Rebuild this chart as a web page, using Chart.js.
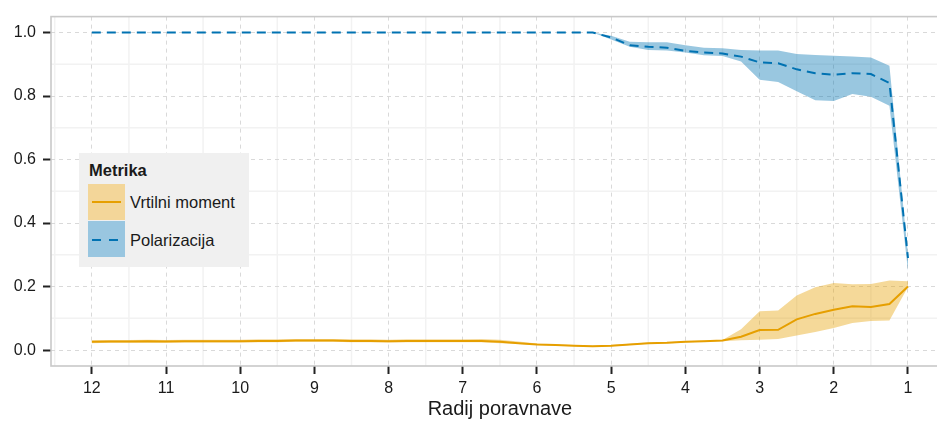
<!DOCTYPE html>
<html>
<head>
<meta charset="utf-8">
<script src="https://cdn.jsdelivr.net/npm/chart.js@4/dist/chart.umd.min.js"></script>
<style>
  html, body { margin: 0; padding: 0; background: #fff; overflow: hidden; }
  #wrap { position: relative; width: 952px; height: 421px; }
  #legend {
    position: absolute; left: 79px; top: 153px; width: 170px; height: 114px;
    background: #f0f0f0; font-family: "Liberation Sans", Arial, sans-serif; color: #1a1a1a;
  }
  #legend .ttl { position: absolute; left: 10px; top: 8px; font-weight: bold; font-size: 16.5px; }
  #legend .key { position: absolute; left: 9px; width: 37px; height: 36px; }
  #legend .lbl { position: absolute; left: 51px; font-size: 16.5px; line-height: 20px; }
</style>
</head>
<body>
<div id="wrap">
  <canvas id="myChart"></canvas>
  <div id="legend">
    <div class="ttl">Metrika</div>
    <div class="key" style="top:31px;background:#f3d699;">
      <svg width="37" height="36"><line x1="4" y1="18" x2="33" y2="18" stroke="#E69F00" stroke-width="2"/></svg>
    </div>
    <div class="lbl" style="top:39px;">Vrtilni moment</div>
    <div class="key" style="top:68px;background:#99c6e0;">
      <svg width="37" height="36"><line x1="4" y1="19" x2="33" y2="19" stroke="#0072B2" stroke-width="2" stroke-dasharray="9,8"/></svg>
    </div>
    <div class="lbl" style="top:77px;">Polarizacija</div>
  </div>
</div>
<script>
"use strict";

// categories (radius) -----------
const radius = [12, 11.75, 11.5, 11.25, 11, 10.75, 10.5, 10.25, 10, 9.75, 9.5, 9.25, 9,
  8.75, 8.5, 8.25, 8, 7.75, 7.5, 7.25, 7, 6.75, 6.5, 6.25, 6, 5.75, 5.5, 5.25, 5,
  4.75, 4.5, 4.25, 4, 3.75, 3.5, 3.25, 3, 2.75, 2.5, 2.25, 2, 1.75, 1.5, 1.25, 1];

// torque (Vrtilni moment) ----------
const torqueMean = [0.026, 0.027, 0.027, 0.028, 0.027, 0.028, 0.028, 0.028, 0.028, 0.029, 0.029, 0.030, 0.030,
  0.030, 0.029, 0.029, 0.028, 0.029, 0.029, 0.029, 0.029, 0.029, 0.026, 0.022, 0.018, 0.016, 0.014, 0.012, 0.014,
  0.018, 0.022, 0.023, 0.026, 0.028, 0.030, 0.042, 0.063, 0.064, 0.097, 0.114, 0.127, 0.138, 0.136, 0.145, 0.200];
const torqueHigh = [0.031, 0.032, 0.032, 0.033, 0.032, 0.033, 0.033, 0.033, 0.033, 0.034, 0.034, 0.035, 0.035,
  0.035, 0.034, 0.034, 0.033, 0.034, 0.034, 0.034, 0.034, 0.035, 0.033, 0.027, 0.021, 0.018, 0.016, 0.014, 0.016,
  0.020, 0.024, 0.025, 0.028, 0.030, 0.032, 0.066, 0.122, 0.125, 0.172, 0.198, 0.211, 0.207, 0.208, 0.219, 0.217];
const torqueLow = [0.022, 0.023, 0.023, 0.024, 0.023, 0.024, 0.024, 0.024, 0.024, 0.025, 0.025, 0.026, 0.026,
  0.026, 0.025, 0.025, 0.024, 0.025, 0.025, 0.025, 0.025, 0.025, 0.022, 0.019, 0.016, 0.014, 0.012, 0.010, 0.012,
  0.016, 0.020, 0.021, 0.024, 0.026, 0.028, 0.031, 0.033, 0.035, 0.046, 0.057, 0.070, 0.085, 0.092, 0.093, 0.199];

// polarization (Polarizacija) ----------
const polarMean = [1, 1, 1, 1, 1, 1, 1, 1, 1, 1, 1, 1, 1,
  1, 1, 1, 1, 1, 1, 1, 1, 1, 1, 1, 1, 1, 1, 1, 0.984,
  0.960, 0.955, 0.952, 0.942, 0.937, 0.934, 0.924, 0.906, 0.903, 0.884, 0.872, 0.867, 0.872, 0.869, 0.841, 0.290];
const polarHigh = [1, 1, 1, 1, 1, 1, 1, 1, 1, 1, 1, 1, 1,
  1, 1, 1, 1, 1, 1, 1, 1, 1, 1, 1, 1, 1, 1, 1, 0.990,
  0.971, 0.969, 0.969, 0.960, 0.952, 0.950, 0.945, 0.943, 0.943, 0.932, 0.929, 0.927, 0.924, 0.921, 0.895, 0.300];
const polarLow = [1, 1, 1, 1, 1, 1, 1, 1, 1, 1, 1, 1, 1,
  1, 1, 1, 1, 1, 1, 1, 1, 1, 1, 1, 1, 1, 1, 1, 0.978,
  0.955, 0.945, 0.943, 0.937, 0.928, 0.926, 0.909, 0.851, 0.844, 0.815, 0.787, 0.784, 0.806, 0.798, 0.769, 0.250];

// axes ticks ----------
const xTicks = [12, 11, 10, 9, 8, 7, 6, 5, 4, 3, 2, 1];
const xMinor = [12.5, 11.5, 10.5, 9.5, 8.5, 7.5, 6.5, 5.5, 4.5, 3.5, 2.5, 1.5, 0.5];
const yTicks = [0, 0.2, 0.4, 0.6, 0.8, 1.0];
const yMinor = [0.1, 0.3, 0.5, 0.7, 0.9];

const pts = (arr) => radius.map((r, i) => ({ x: r, y: arr[i] }));

const FONT = "'Liberation Sans', Arial, sans-serif";

// minor grid + panel border
const panelPlugin = {
  id: "panel",
  beforeDraw(chart) {
    const { ctx, chartArea: a, scales } = chart;
    ctx.save();
    ctx.strokeStyle = "#f2f2f2";
    ctx.lineWidth = 1.5;
    xMinor.forEach((v) => {
      const px = scales.x.getPixelForValue(v);
      if (px < a.left || px > a.right) return;
      ctx.beginPath(); ctx.moveTo(px, a.top); ctx.lineTo(px, a.bottom); ctx.stroke();
    });
    yMinor.forEach((v) => {
      const py = scales.y.getPixelForValue(v);
      ctx.beginPath(); ctx.moveTo(a.left, py); ctx.lineTo(a.right, py); ctx.stroke();
    });
    ctx.restore();
  },
  afterDraw(chart) {
    const { ctx, chartArea: a } = chart;
    ctx.save();
    ctx.strokeStyle = "#c9c9c9";
    ctx.lineWidth = 1.6;
    ctx.strokeRect(a.left, a.top, a.right - a.left, a.bottom - a.top);
    ctx.restore();
  },
};

const ctx = document.getElementById("myChart").getContext("2d");
const myChart = new Chart(ctx, {
  type: "line",
  data: {
    datasets: [
      { label: "torqueHigh", data: pts(torqueHigh), fill: "+1", backgroundColor: "rgba(230,159,0,0.4)", borderWidth: 0, pointRadius: 0, order: 3 },
      { label: "torqueLow", data: pts(torqueLow), fill: false, borderWidth: 0, pointRadius: 0, order: 3 },
      { label: "polarHigh", data: pts(polarHigh), fill: "+1", backgroundColor: "rgba(0,114,178,0.4)", borderWidth: 0, pointRadius: 0, order: 3 },
      { label: "polarLow", data: pts(polarLow), fill: false, borderWidth: 0, pointRadius: 0, order: 3 },
      { label: "Vrtilni moment", data: pts(torqueMean), borderColor: "#E69F00", borderWidth: 2, pointRadius: 0, fill: false, order: 1 },
      { label: "Polarizacija", data: pts(polarMean), borderColor: "#0072B2", borderWidth: 2, borderDash: [9, 6], pointRadius: 0, fill: false, order: 1 },
    ],
  },
  options: {
    responsive: true,
    maintainAspectRatio: false,
    animation: false,
    layout: { padding: { left: 0, right: 3.2, top: 12.7, bottom: 0 } },
    plugins: { legend: { display: false }, tooltip: { enabled: false } },
    elements: { line: { tension: 0 } },
    scales: {
      x: {
        type: "linear",
        reverse: true,
        min: 0.45,
        max: 12.55,
        afterBuildTicks: (s) => { s.ticks = xTicks.map((v) => ({ value: v })); },
        afterFit: (s) => { s.height = 55; },
        ticks: { autoSkip: false, maxRotation: 0, padding: 5, color: "#1a1a1a", font: { family: FONT, size: 16 }, callback: (v) => String(v) },
        grid: { color: "#d9d9d9", lineWidth: 1, tickColor: "#222", tickWidth: 2, tickLength: 8 },
        border: { display: false, dash: [4, 4] },
        title: { display: true, text: "Radij poravnave", color: "#1a1a1a", font: { family: FONT, size: 20 }, padding: { top: 0, bottom: 0 } },
      },
      y: {
        min: -0.05,
        max: 1.05,
        afterBuildTicks: (s) => { s.ticks = yTicks.map((v) => ({ value: v })); },
        afterFit: (s) => { s.width = 51; },
        ticks: { padding: 7, color: "#1a1a1a", font: { family: FONT, size: 16 }, callback: (v) => Number(v).toFixed(1) },
        grid: { color: "#d9d9d9", lineWidth: 1, tickColor: "#222", tickWidth: 2, tickLength: 8 },
        border: { display: false, dash: [4, 4] },
      },
    },
  },
  plugins: [panelPlugin],
});
</script>
</body>
</html>
